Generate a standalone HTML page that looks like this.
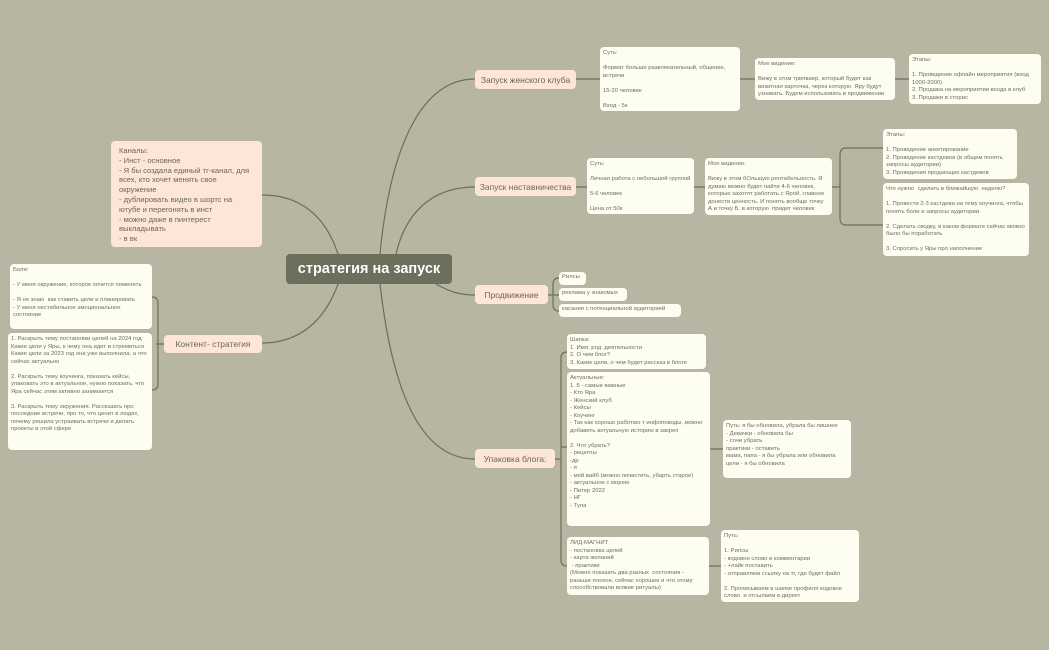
<!DOCTYPE html>
<html><head><meta charset="utf-8"><style>
body{margin:0;width:1049px;height:650px;background:#b6b6a3;position:relative;overflow:hidden;font-family:"Liberation Sans","DejaVu Sans",sans-serif}
.n{position:absolute;box-sizing:border-box;border-radius:4px}
.w{background:#fdfdf1;color:#6d6d60;font-size:5.9px;line-height:7.5px;padding:3px 3px;white-space:pre-wrap;overflow:hidden}
.p{background:#fde5d8;color:#6a675c;font-size:8.5px;display:flex;align-items:center;justify-content:center;white-space:nowrap}
svg{position:absolute;left:0;top:0}
</style></head><body>
<svg width="1049" height="650" fill="none" stroke="#6b6f5c" stroke-width="1.2">
<path d="M380 254 C390 150 420 79 475 79"/>
<path d="M396 254 C405 215 430 187 475 187"/>
<path d="M436 284 C450 292 460 295 475 295"/>
<path d="M380 284 C392 390 420 459 475 459"/>
<path d="M338 254 C325 215 300 195 262 195"/>
<path d="M338 284 C325 320 300 343 262 343"/>
<path d="M576 79 H600 M740 79 H755 M895 79 H909"/>
<path d="M576 187 H587 M694 187 H705 M832 187 H840 M840 155 Q840 148 846 148 H883 M840 155 V218 Q840 225 846 225 H883"/>
<path d="M548 295 H553 M559 278 Q553 278 553 284 V305 Q553 311 559 311 M553 295 H559"/>
<path d="M555 459 H561 M567 352 Q561 352 561 358 V560 Q561 566 567 566 M561 447 H567 M710 449 H723 M709 566 H721"/>
<path d="M164 344 H156 M152 297 Q158 297 158 303 V384 Q158 390 152 390"/>
</svg>
<div class="n" style="left:286px;top:254px;width:166px;height:30px;background:#6b6f5c;color:#fff;font-size:14.5px;font-weight:bold;display:flex;align-items:center;justify-content:center">стратегия на запуск</div>
<div class="n p" style="left:111px;top:141px;width:151px;height:106px;display:block;white-space:pre-wrap;font-size:7.6px;line-height:9.8px;padding:5px 8px">Каналы:
- Инст - основное
- Я бы создала единый тг-канал, для всех, кто хочет менять свое окружение
- дублировать видео в шортс на ютубе и перегонять в инст
- можно даже в пинтерест выкладывать
- в вк</div>
<div class="n w" style="left:10px;top:264px;width:142px;height:65px">Боли:

- У меня окружение, которое хочется поменять

- Я не знаю  как ставить цели и планировать
- У меня нестабильное эмоциональное состояние</div>
<div class="n w" style="left:8px;top:333px;width:144px;height:117px">1. Раскрыть тему постановки целей на 2024 год
Какие цели у Яры, к чему она идет и стремиться
Какие цели за 2023 год она уже выполнила, а что сейчас актуально

2. Раскрыть тему коучинга, показать кейсы, упаковать это в актуальное, нужно показать, что Яра сейчас этим активно занимается

3. Раскрыть тему окружения. Рассказать про последние встречи, про то, что ценит в людях, почему решила устраивать встречи и делать проекты в этой сфере</div>
<div class="n p" style="left:164px;top:335px;width:98px;height:18px">Контент-  стратегия</div>

<div class="n p" style="left:475px;top:70px;width:101px;height:19px">Запуск женского клуба</div>
<div class="n w" style="left:600px;top:47px;width:140px;height:64px">Суть:

Формат больше развлекательный, общение, встречи

15-20 человек

Вход - 5к</div>
<div class="n w" style="left:755px;top:58px;width:140px;height:42px">Мое видение:

Вижу в этом трипваер, который будет как визитная карточка, через которую  Яру будут узнавать. Будем использовать в продвижении</div>
<div class="n w" style="left:909px;top:54px;width:132px;height:50px">Этапы:

1. Проведение офлайн мероприятия (вход 1000-2000)
2. Продажа на мероприятии входа в клуб
3. Продажи в сторис</div>

<div class="n p" style="left:475px;top:177px;width:101px;height:19px">Запуск наставничества</div>
<div class="n w" style="left:587px;top:158px;width:107px;height:56px">Суть:

Личная работа с небольшой группой

5-6 человек

Цена от 50к</div>
<div class="n w" style="left:705px;top:158px;width:127px;height:57px">Мое видение:

Вижу в этом бОльшую рентабельность. Я думаю можно будет найти 4-6 человек, которые захотят работать с Ярой, главное донести ценность. И понять вообще точку А и точку Б, в которую  придет человек</div>
<div class="n w" style="left:883px;top:129px;width:134px;height:50px">Этапы:

1. Проведение анкетирование
2. Проведение кастдевов (в общем понять запросы аудитории)
3. Проведения продающих кастдевов</div>
<div class="n w" style="left:883px;top:183px;width:146px;height:73px">Что нужно  сделать в ближайшую  неделю?

1. Провести 2-3 кастдева на тему коучинга, чтобы понять боли и запросы аудитории

2. Сделать сводку, в каком формате сейчас можно было бы поработать

3. Спросить у Яры про наполнение</div>

<div class="n p" style="left:475px;top:285px;width:73px;height:19px">Продвижение</div>
<div class="n w" style="left:559px;top:272px;width:27px;height:13px;padding:2px 3px">Рилсы</div>
<div class="n w" style="left:559px;top:288px;width:68px;height:13px;padding:2px 3px">реклама у знакомых</div>
<div class="n w" style="left:559px;top:304px;width:122px;height:13px;padding:2px 3px">касания с потенциальной аудиторией</div>

<div class="n p" style="left:475px;top:449px;width:80px;height:19px">Упаковка блога:</div>
<div class="n w" style="left:567px;top:334px;width:139px;height:35px">Шапка:
1. Имя, род  деятельности
2. О чем блог?
3. Какие цели, о чем будет рассказ в блоге</div>
<div class="n w" style="left:567px;top:372px;width:143px;height:154px">Актуальные:
1. 5 - самые важные
- Кто Яра
- Женский клуб
- Кейсы
- Коучинг
- Так как хорошо работаю т инфоповоды, можно добавить актуальную историю в закреп

2. Что убрать?
- рецепты
-др
- я
- мой вайб (можно почистить, убарть старое)
- актуальное с морем
- Питер 2022
- НГ
- Тула</div>
<div class="n w" style="left:723px;top:420px;width:128px;height:58px">Путь: я бы обновила, убрала бы лишнее
- Девачки - обновила бы
- сочи убрать
практики - оставить
мама, папа - я бы убрала или обновила
цели - я бы обновила</div>
<div class="n w" style="left:567px;top:537px;width:142px;height:58px">ЛИД-МАГНИТ
- постановка целей
- карта желаний
 - практики
(Можно показать два разных  состояния - раньше плохое, сейчас хорошее и что этому способствовали всякие ритуалы)</div>
<div class="n w" style="left:721px;top:530px;width:138px;height:72px">Путь:

1. Рилсы
- кодовое слово в комментарии
- +лайк поставить
- отправляем ссылку на тг, где будет файл

2. Прописываем в шапке профиля кодовое слово  и отсылаем в директ</div>
</body></html>
